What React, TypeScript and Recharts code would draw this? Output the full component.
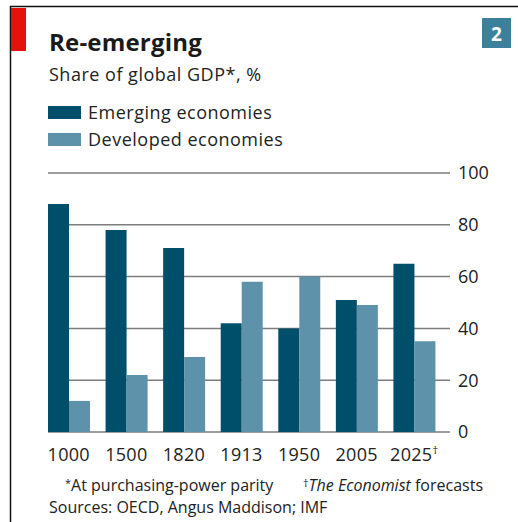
import React from "react"
import { BarChart, Bar, XAxis, YAxis, CartesianGrid } from "recharts"

const years = ["1000", "1500", "1820", "1913", "1950", "2005", "2025"]
const emerging = [88, 78, 71, 42, 40, 51, 65]
const developed = [12, 22, 29, 58, 60, 49, 35]
const yTicks = [0, 20, 40, 60, 80, 100]

const data = years.map((year, i) => ({
  year,
  emerging: emerging[i],
  developed: developed[i],
}))

const DARK = "#004f6a"
const LIGHT = "#5e92aa"
const FONT = "'Open Sans', sans-serif"

function YearTick(props: any) {
  const { x, y, payload } = props
  const forecast = payload.value === "2025"
  return (
    <text x={x} y={y + 29} textAnchor="middle" fill="#222" fontSize={18} fontFamily={FONT} letterSpacing={0.3}>
      {payload.value}
      {forecast && (
        <tspan fontSize={11} dy={-7}>
          †
        </tspan>
      )}
    </text>
  )
}

function gridLine(p: any) {
  return (
    <line
      key={p.key}
      x1={p.x1 + 8}
      x2={p.x2 + 7}
      y1={p.y1}
      y2={p.y2}
      stroke="#7d7d7d"
      strokeWidth={1.5}
    />
  )
}

export default function App() {
  return (
    <div style={{ position: "absolute", left: 0, top: 0, width: 518, height: 522, background: "#fff" }}>
      <BarChart
        width={518}
        height={522}
        data={data}
        margin={{ top: 173, right: 15, bottom: 60, left: 40 }}
        barGap={0}
        barCategoryGap={8}
      >
        <CartesianGrid vertical={false} horizontal={gridLine} />
        <XAxis
          dataKey="year"
          axisLine={false}
          tickLine={false}
          tickSize={0}
          tickMargin={0}
          height={30}
          interval={0}
          tick={<YearTick />}
        />
        <YAxis
          orientation="right"
          domain={[0, 100]}
          ticks={yTicks}
          axisLine={false}
          tickLine={false}
          tickSize={0}
          tickMargin={15}
          width={60}
          tick={{ fill: "#222", fontSize: 18, fontFamily: FONT }}
        />
        <Bar dataKey="emerging" fill={DARK} isAnimationActive={false} />
        <Bar dataKey="developed" fill={LIGHT} isAnimationActive={false} />
      </BarChart>
      <svg
        width={518}
        height={522}
        style={{ position: "absolute", left: 0, top: 0, pointerEvents: "none" }}
        fontFamily={FONT}
      >
        <line x1={10} y1={6.5} x2={518} y2={6.5} stroke="#111" strokeWidth={1.5} />
        <line x1={10.5} y1={6} x2={10.5} y2={522} stroke="#111" strokeWidth={1.5} />
        <rect x={11} y={8} width={15} height={43} fill="#e3120b" />
        <rect x={482} y={18} width={29} height={30} fill="#3b819c" />
        <text x={496.5} y={41} textAnchor="middle" fill="#fff" fontSize={19} fontWeight={700}>
          2
        </text>
        <text x={49} y={51} fill="#1a1a1a" fontSize={24} fontWeight={700} letterSpacing={0.2}>
          Re-emerging
        </text>
        <text x={49} y={81} fill="#222" fontSize={18} letterSpacing={0.5}>
          Share of global GDP*, %
        </text>
        <rect x={48} y={106} width={33} height={13} fill={DARK} />
        <text x={88} y={119} fill="#222" fontSize={18} letterSpacing={0.5}>
          Emerging economies
        </text>
        <rect x={48} y={133} width={33} height={13} fill={LIGHT} />
        <text x={88} y={146} fill="#222" fontSize={18} letterSpacing={0.5}>
          Developed economies
        </text>
        <text x={65} y={491} fill="#222" fontSize={16}>
          <tspan fontSize={11} dy={-4}>*</tspan>
          <tspan dy={4}>At purchasing-power parity</tspan>
          <tspan x={303} fontSize={11} dy={-4}>†</tspan>
          <tspan fontStyle="italic" dy={4}>The Economist</tspan>
          <tspan> forecasts</tspan>
        </text>
        <text x={49} y={513} fill="#222" fontSize={16}>
          Sources: OECD, Angus Maddison; IMF
        </text>
      </svg>
    </div>
  )
}
